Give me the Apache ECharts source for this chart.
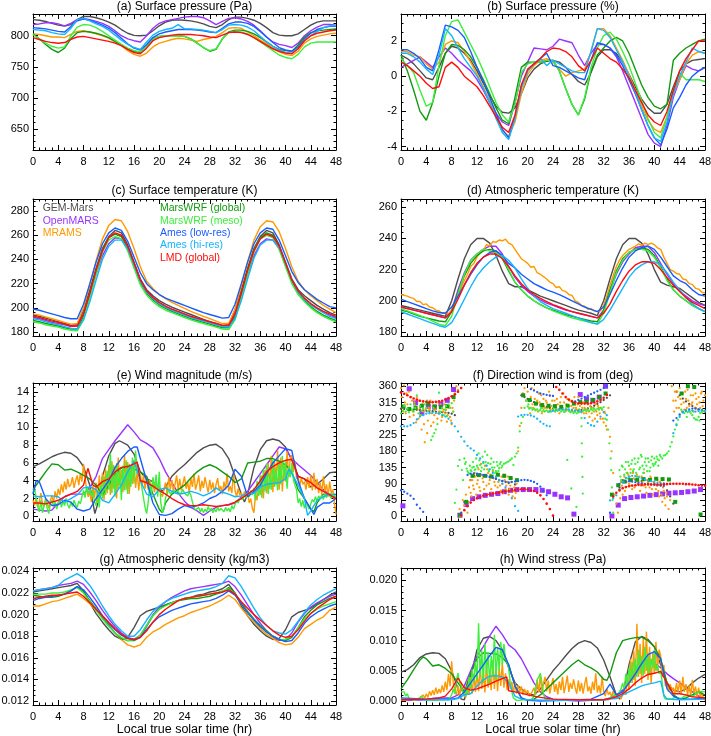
<!DOCTYPE html>
<html><head><meta charset="utf-8">
<script src="https://cdn.jsdelivr.net/npm/echarts@6/dist/echarts.min.js"></script>
<style>html,body{margin:0;padding:0;background:#fff}#c{width:711px;height:736px}</style>
</head><body><div id="c"></div>
<script>
const MODELS=['GEM-Mars','OpenMARS','MRAMS','MarsWRF (global)','MarsWRF (meso)','Ames (low-res)','Ames (hi-res)','LMD (global)'];
const COLORS=['#4d4d4d','#9933ff','#ff9900','#129912','#3dee3d','#1a5cff','#14b4ff','#ff0d0d'];
const HOURS=[0,1,2,3,4,5,6,7,8,9,10,11,12,13,14,15,16,17,18,19,20,21,22,23,24,25,26,27,28,29,30,31,32,33,34,35,36,37,38,39,40,41,42,43,44,45,46,47,48];
const X_TICKS=[0,4,8,12,16,20,24,28,32,36,40,44,48];
const TICK_A=[650,700,750,800], TICK_B=[-4,-2,0,2], TICK_C=[180,200,220,240,260,280], TICK_D=[180,200,220,240,260];
const TICK_E=[0,2,4,6,8,10,12,14], TICK_F=[0,45,90,135,180,225,270,315,360];
const TICK_G=[0.012,0.014,0.016,0.018,0.020,0.022,0.024], TICK_H=[0,0.005,0.010,0.015,0.020];

// (a) Surface pressure (Pa), hourly
const A_gem=[826,825,823,820,817,815.5,818,826,831,831,829,826, 822,817,810,804,800.5,800,801,808,816,822,825,825.5, 825,824,822,819,815,813,818,826,830,830,828,825, 820,813,805,801,800,800,803,810,817,822,824,824,824];
const A_open=[818,819,821,821,819,816,820,826,828,826,823,820, 815,808,800,795,792,790,800,812,820,824,826,828, 830,831,831,829,824,818,823,828,829,827,823,817, 808,798,790,786,784,781,788,800,808,814,818,818,817];
const A_mrams=[803,802,800,798,798,797,802,807,808,806,803,800, 796,790,784,776,770,767,772,782,788,791,794,796, 795,793,791,794,796,799,805,812,813,812,806,800, 793,787,780,774,770,768,775,788,795,799,801,803,804];
const A_wrfg=[803,795,786,778,773,780,795,805,807,806,804,801, 797,791,785,779,775,773,783,795,799,800,800,800, 799,795,788,781,775,778,795,806,809,809,807,803, 797,790,783,778,776,775,785,798,805,808,809,810,811];
const A_wrfm=[802,795,788,783,780,782,800,814,818,817,813,807, 800,793,786,780,776,774,782,795,799,800,800,800, 799,795,788,781,776,779,795,805,807,806,803,797, 790,783,776,769,765,763,770,782,788,790,790,790,790];
const A_amesl=[813,812,811,809,807,806,815,824,827,825,821,817, 812,805,796,787,780,777,786,797,803,806,808,810, 810,810,809,808,806,805,812,819,822,822,820,815, 807,798,789,781,777,775,782,795,804,810,813,815,815];
const A_amesh=[810,809,808,805,803,802,812,826,828,824,819,815, 809,801,793,786,781,778,790,801,807,810,812,818, 811,811,810,809,807,805,810,817,818,817,814,808, 799,790,783,777,773,772,780,792,800,807,813,816,816];
const A_lmd=[797,794,791,789,788,789,794,798,799,797,795,793, 791,788,784,778,773,771,780,792,797,799,801,802, 802,802,801,800,798,797,801,805,806,805,802,797, 791,785,779,775,772,771,779,792,800,804,806,808,809];

// (b) Surface pressure (%), hourly
const B_gem=[1.2,1.0,0.7,0.3,-0.1,-0.2,0.5,1.3,1.7,1.6,1.3,0.9, 0.3,-0.4,-1.1,-1.7,-2.05,-2.1,-1.8,-1.0,-0.1,0.4,0.7,0.85, 0.9,0.8,0.5,0.1,-0.3,-0.5,0.2,1.1,1.5,1.5,1.3,0.8, 0.1,-0.6,-1.3,-1.8,-2.1,-2.1,-1.6,-0.6,0.3,0.7,0.9,0.95,1.0];
const B_open=[0.5,0.7,0.9,1.1,0.8,0.5,1.1,1.6,1.3,0.9,0.6,0.3, -0.2,-0.8,-1.5,-2.1,-2.6,-2.8,-1.5,0.0,0.8,1.6,1.55,1.5, 1.7,2.1,2.0,1.9,1.2,0.6,1.3,1.8,1.8,1.6,1.1,0.3, -0.6,-1.5,-2.4,-3.3,-3.8,-4.0,-2.8,-1.2,-0.2,0.6,0.4,0.3,0.5];
const B_mrams=[1.4,1.4,1.2,1.1,0.7,0.4,0.8,1.8,2.0,1.9,1.4,0.8, 0.1,-0.6,-1.4,-2.3,-3.1,-3.4,-2.6,-1.0,0.1,0.6,0.9,1.0, 0.8,0.4,0.0,0.2,0.3,0.4,1.4,2.7,2.7,2.3,1.6,0.9, 0.1,-0.8,-1.7,-2.5,-3.0,-3.2,-2.3,-1.0,-0.2,0.7,1.2,1.4,1.3];
const B_wrfg=[1.2,0.3,-0.8,-2.0,-2.5,-1.5,0.0,1.3,1.8,1.75,1.5,1.1, 0.5,-0.2,-1.0,-1.8,-2.5,-2.7,-1.2,0.5,0.8,0.8,0.8,0.9, 0.9,0.3,-0.7,-1.6,-2.2,-1.3,0.3,1.2,1.6,2.0,2.2,2.0, 1.3,0.4,-0.5,-1.2,-1.7,-1.85,-1.6,0.9,1.3,1.6,1.8,2.0,2.1];
const B_wrfm=[1.0,0.6,0.2,-0.8,-1.7,-1.5,0.6,2.3,3.1,3.2,2.5,1.8, 1.1,0.3,-0.6,-1.5,-2.2,-2.6,-1.6,0.2,0.7,0.8,0.8,0.9, 0.9,0.3,-0.7,-1.6,-2.2,-1.2,0.5,1.6,2.3,2.5,2.1,1.4, 0.6,-0.4,-1.4,-2.4,-3.2,-3.5,-2.3,-0.8,0.2,-0.2,-0.2,-0.2,-0.3];
const B_amesl=[1.5,1.5,1.3,1.0,0.5,0.3,1.5,2.9,2.8,2.6,2.2,1.4, 0.5,-0.3,-1.2,-2.1,-3.0,-3.5,-2.3,-0.6,0.3,0.7,1.0,1.3, 0.6,0.5,0.3,0.1,-0.1,-0.2,0.9,1.9,1.8,1.6,1.2,0.6, -0.2,-1.0,-1.9,-2.8,-3.5,-3.9,-3.0,-1.8,-1.2,-0.5,0.0,0.3,0.5];
const B_amesh=[1.3,1.3,1.1,0.8,0.4,0.1,1.2,2.7,2.3,1.6,1.0,0.5, 0.0,-0.7,-1.5,-2.4,-3.2,-3.6,-2.4,-0.7,0.3,0.7,1.0,0.6, 0.9,0.7,0.5,0.3,0.2,0.2,1.4,2.7,2.6,2.2,1.5,0.8, 0.0,-0.9,-1.9,-2.8,-3.5,-3.7,-2.6,-1.0,0.0,0.8,1.6,1.4,1.3];
const B_lmd=[0.8,0.6,0.3,0.0,-0.4,-0.7,-0.6,0.5,0.8,0.5,0.0,-0.3, -0.6,-1.1,-1.7,-2.3,-2.9,-3.2,-2.2,-0.5,0.4,0.7,1.0,1.4, 1.6,1.55,1.4,1.1,0.6,0.3,0.9,1.6,1.3,1.0,0.8,0.4, -0.1,-0.8,-1.5,-2.2,-2.6,-2.8,-2.0,-0.8,0.3,1.0,1.5,2.0,2.0];

// (c) Surface temperature (K), hourly
const C_gem=[194,193,191.5,190,188.5,187,185.5,186,198,215,233,249, 259,264,262,252,238,224,215,210,206,203,200.5,198.5, 196.5,194.5,192.5,190.5,188.5,187,185.5,186,198,215,233,249, 259,264,262,252,238,224,215,210,206,202,199,196,194];
const C_open=[192,191,189.5,188,187,186,184.5,185,195,211,228,243, 253,258,257,249,236,223,214,208,204,201,198.5,196.5, 194.5,192.5,191,189.5,188,186.5,185,185,195,211,228,243, 253,257,256,249,236,223,213,207,203,199.5,196.5,194,192];
const C_mrams=[195,194,192.5,191,189.5,188,186.5,187,200,219,239,257, 268,273,272,263,249,234,222,216,211,207.5,204.5,202, 199.5,197,195,193,191,189,187,187,199,218,238,256, 267,272,271,263,249,234,222,215,210,206,202,199,196];
const C_wrfg=[189.5,188.5,187,186,185,183.5,182.5,182.5,193,211,231,248, 258,261,259,249,235,221,212,206.5,202.5,199.5,197,195, 193,191,189.5,188,186.5,185,183.5,183.5,193,211,231,248, 258,262,260,250,236,222,212,206,201,197,194,191.5,189.5];
const C_wrfm=[188.5,187.5,186,185,184,182.5,181.5,181,190,208,228,246, 256,259,257,247,233,219,210.5,205,201,198,196,194, 192,190,188.5,187,185.5,184,182.5,182,190,208,228,246, 257,260,258,248,234,220,211,205,200,196,193,190.5,188.5];
const C_amesl=[199,198,196.5,195,193.5,192,191,191,203,220,238,253, 262,266,264,255,242,229,220,215,211,208,206,204, 202,200,198,196,194.5,193,191.5,192,203,220,238,253, 262,266,265,256,243,230,221,215,211,207,204,201,200];
const C_amesh=[191,190,188.5,187,186,184.5,183,182.5,190,205,223,240, 251,256,256,249,236,222,213,207.5,203.5,200.5,198,196, 194,192,190.5,189,187.5,186,184.5,184,191,206,224,241, 252,256,256,250,237,223,213,207,202.5,199,196,193,191];
const C_lmd=[193,192,190.5,189,188,186.5,185,185,195,212,231,247, 258,262,260,251,237,223,214,208.5,204.5,201.5,199,197, 195,193,191.5,190,188.5,187,185.5,185.5,195,212,231,247, 257,261,259,251,237,223,214,208,203.5,200,197,195,193];

// (d) Atmospheric temperature (K), hourly (MRAMS every 0.5 h)
const D_gem=[197,196,195,194,193,192,191,190,200,214,227,236, 240,240,237,229,219,211,209,209,207,205,203,201.5, 200,198.5,197,195.5,194,193,192,190.5,200,214,227,236, 240,240,237,230,220,212,210,209,208,205,202,199,197];
const D_open=[196,195,194,193,192,191,190,189,194,207,218,226, 230,233,235,235,230,222,215,210,206,203,200.5,198.5, 197,195.5,194,193,192,191,190,189,194,206,217,225, 230,234,235,235,231,224,217,211,206,203,200,198,197];
const D_mrams=[204,203.5, 203,202, 201.5,199.5, 199.5,197.5, 198,196, 195.5,194, 193.5,192, 192.5,191.5, 194,198, 203,208, 213,217, 222,224, 228,231, 232,236, 235,238, 237.5,239, 238.5,239.5, 237,236, 233,230, 227,225.5, 224,221.5, 222,218, 217,215.5, 214,212, 211,208.5, 209,206.5, 206,204, 203.5,200, 199,197, 196.5,194.5, 195,193.5, 193,193.5, 197,203, 210,216, 222,226, 229,231, 233,234, 235,236.5, 235.5,237, 236,237, 236,234, 233,228, 224,220, 219,217.5, 217,214, 213.5,211, 210.5,208, 207.5,205.5, 205];
const D_wrfg=[194,193,191.5,190,189,188,187,186.5,193,205,216,224, 229,232,233,232,227,219,212,207,203,200,197.5,195.5, 194,192.5,191,190,189,188,187,186.5,194,207,219,227, 231,233,234,233,229,222,214,207,203,200,197,195,193];
const D_wrfm=[195,193.5,192,190.5,189,187,185,184,190,204,217,226, 230,233,232,231,228,220,212,207,203,200,197.5,195.5, 193.5,192,190.5,189,188,187,186,185,192,205,218,226, 231,233,233,232,228,221,213,207,203,200,197,195,193];
const D_amesl=[201,199.5,198,196.5,195,193.5,192.5,192,196,203,210,217, 223,228,231,232,229,224,221,217,214,211,209,207, 205.5,204,202,200,198,196,194.5,193,196,204,213,221, 228,232,234,235,233,228,222,216,213,211,207,204,203];
const D_amesh=[193,191.5,190,188.5,187,185.5,184,183,186,193,201,209, 216,221,225,228,229,226,221,214,208,203,199.5,197, 195,193.5,192,190.5,189,187.5,186,185,188,194,201,208, 215,220,223,225,225,223,218,212,207,202,198,195,193];
const D_lmd=[196,195,194,193,192,191,190,189,193,201,210,218, 224,228,230,230,227,222,216,211,207,204,201.5,199.5, 197.5,196,194.5,193,192,191,190,189,192,198,206,213, 219,223,225,225,224,220,215,210,206,202,199,197,195];

// (e) Wind magnitude (m/s): [hour, value] pairs; MRAMS and MarsWRF meso every 0.25 h
const E_gem=[[0,5.6],[1,5.9],[2,6.3],[3,6.7],[4,7.0],[5,7.2],[6,7.1],[7,6.6],[8,5.6],[9,3.5],[9.8,0.3],[10.5,2.0],[11,4.5],[12,6.8],[13,8.2],[13.7,8.5],[14,8.5],[15,8.0],[16,7.0],[17,5.0],[18,4.2],[19,3.9],[20,3.2],[20.5,2.8],[21,3.3],[22,4.5],[23,5.2],[24,5.8],[25,6.5],[26,7.2],[27,7.7],[28,8.0],[29,8.1],[30,7.6],[31,6.5],[32,4.5],[33,2.5],[33.5,1.6],[34,2.5],[35,5.5],[36,7.5],[37,8.5],[38,8.7],[39,8.5],[40,7.8],[41,6.3],[42,4.5],[43,4.2],[44,3.3],[45,3.6],[46,4.2],[47,4.9],[48,5.0]];
const E_open=[[0,0.8],[1,0.7],[2,0.6],[3,0.7],[4,1.5],[5,2.2],[6,2.5],[7,2.5],[8,2.5],[9,3.2],[10,4.5],[11,6.5],[12,7.5],[13,8.5],[14,9.4],[15,10.3],[16,9.5],[17,8.6],[18,8.2],[19,7.7],[20,6.5],[21,5.0],[22,3.8],[23,2.6],[24,1.7],[25,1.0],[26,0.6],[27,0.1],[28,0.6],[29,1.0],[30,1.2],[31,1.3],[32,1.5],[33,2.2],[34,2.8],[35,3.8],[36,4.8],[37,5.8],[38,6.8],[39,7.8],[40,7.6],[41,6.5],[42,5.8],[43,5.2],[44,4.6],[45,3.8],[46,3.0],[47,2.4],[48,2.0]];
const E_mrams=[1.8,1.2,2.1,1.0, 1.7,2.6,1.4,1.1, 2.0,1.5,0.9,1.8, 2.3,1.6,2.8,2.0, 3.1,2.4,3.6,2.7, 3.9,3.0,4.2,3.3, 3.6,4.4,3.2,4.0, 4.6,3.5,4.8,3.9, 5.9,4.2,3.0,2.2, 2.8,1.6,3.4,2.1, 3.8,1.5,4.6,2.3, 4.9,1.8,5.3,2.6, 5.8,2.4,6.2,3.1, 5.6,2.0,6.6,3.4, 5.2,2.7,6.9,3.0, 6.1,2.5,5.7,3.6, 6.4,3.2,5.0,2.9, 4.8,3.4,4.6,3.1, 4.4,3.0,4.1,3.2, 3.8,2.7,3.9,3.1, 3.4,2.6,2.2,3.0, 3.8,2.5,4.4,3.0, 4.1,2.8,3.6,4.6, 3.0,4.2,2.9,3.7, 4.5,3.1,3.9,2.6, 4.3,3.3,4.8,3.0, 3.7,4.6,2.8,4.0, 3.2,4.4,3.5,2.7, 4.1,3.0,3.8,2.6, 3.6,4.3,2.9,3.4, 2.5,3.9,3.0,4.8, 2.8,3.4,2.6,5.0, 2.9,2.2,3.1,2.4, 2.7,1.9,2.8,2.2, 2.6,1.5,2.0,0.9, 0.4,2.5,1.8,3.6, 2.4,4.6,2.0,5.2, 2.6,6.0,3.1,6.8, 2.7,6.2,3.5,7.4, 3.0,6.6,2.8,5.9, 3.9,7.3,4.4,6.5, 6.9,5.0,6.2,4.2, 4.5,3.4,4.3,3.6, 3.9,3.0,4.4,3.2, 4.6,2.9,4.9,3.0, 4.2,2.6,3.8,2.4, 4.5,2.8,3.6,2.2, 3.9,2.6,3.0,1.5, 0.2];
const E_wrfm=[2.6,3.2,2.0,1.1, 0.5,1.8,0.4,1.2, 1.9,0.9,0.3,1.4, 1.8,1.1,1.6,0.8, 1.5,1.9,1.0,1.7, 1.2,2.0,1.3,0.9, 1.6,1.1,1.8,1.3, 1.0,1.7,1.4,2.2, 2.9,2.1,3.4,2.5, 3.1,2.3,2.8,1.6, 1.2,2.9,1.0,3.6, 2.0,4.5,2.4,5.1, 3.0,7.1,2.6,5.8, 2.2,6.0,3.0,5.4, 1.8,5.7,2.9,6.3, 2.5,5.9,3.3,6.6, 3.7,7.4,4.8,5.2, 4.3,3.2,2.1,1.0, 0.3,1.6,3.8,2.4, 4.4,3.1,4.7,2.2, 5.0,1.5,0.4,0.8, 2.1,2.6,2.9,2.5, 2.7,3.0,2.6,2.8, 2.9,2.4,2.7,3.0, 2.6,2.8,2.3,2.7, 2.4,1.6,1.0,0.7, 0.6,1.0,0.5,0.9, 0.4,0.8,0.5,1.1, 0.6,0.9,0.4,0.8, 0.5,1.0,0.6,0.9, 0.7,0.5,1.0,0.6, 0.9,0.5,1.2,0.8, 1.3,1.8,1.5,2.0, 2.2,1.9,2.4,2.1, 2.6,2.2,2.9,2.4, 3.2,1.8,4.0,2.3, 4.6,2.1,5.3,2.8, 5.9,2.5,4.8,3.0, 6.4,3.3,5.5,2.9, 6.0,3.6,6.8,4.0, 6.2,3.1,5.6,4.4, 6.0,4.1,3.5,3.0, 1.5,2.0,1.1,1.8, 0.9,1.6,1.2,0.8, 1.4,1.9,1.6,2.2, 1.7,2.3,2.0,2.4, 1.9,2.5,2.1,2.6, 2.3,2.0,2.4,2.2, 2.2];
const E_amesl=[[0,2.5],[0.5,4.0],[1,3.9],[2,2.0],[3,1.2],[4,1.3],[5,1.8],[6,1.6],[7,0.8],[8,0.6],[9,0.8],[10,2.0],[11,3.0],[12,4.0],[13,5.5],[14,6.5],[15,7.3],[16,7.8],[16.5,7.8],[17,6.5],[18,4.0],[19,1.5],[20,0.2],[21,0.1],[22,0.3],[23,0.8],[24,1.2],[25,1.0],[26,1.2],[27,1.5],[28,2.0],[29,2.3],[30,2.8],[31,3.5],[32,5.3],[33,4.5],[34,2.2],[35,2.8],[36,3.5],[37,4.8],[38,6.0],[39,6.8],[40,7.6],[41,7.4],[42,4.0],[43,2.0],[44,0.8],[44.5,0.2],[45,1.0],[46,1.5],[47,1.5],[48,2.0]];
const E_amesh=[[0,2.3],[1,2.2],[2,2.3],[3,2.3],[4,2.2],[5,1.6],[6,2.0],[7,2.4],[8,3.2],[9,3.3],[10,3.0],[11,1.8],[12,1.5],[13,2.5],[14,3.5],[15,5.0],[16,6.2],[17,4.0],[18,2.5],[19,2.2],[20,3.0],[21,3.2],[22,2.8],[23,2.5],[24,2.6],[25,2.8],[26,2.6],[27,2.3],[28,2.6],[29,3.2],[30,2.7],[31,2.5],[32,2.2],[33,2.3],[34,2.6],[35,2.6],[36,3.3],[37,3.6],[38,3.7],[39,3.8],[40,4.2],[40.5,5.3],[41,4.8],[42,3.5],[43,2.0],[43.5,0.1],[44,0.6],[45,1.8],[46,2.2],[47,2.5],[48,2.5]];
const E_lmd=[[0,1.5],[1,1.5],[2,1.4],[3,1.6],[4,1.8],[5,2.2],[6,2.5],[7,2.8],[8,3.5],[8.7,5.4],[9,5.2],[9.5,3.5],[10,3.3],[11,3.9],[12,4.2],[13,5.0],[14,5.5],[15,5.6],[16,5.9],[16.5,6.1],[17,4.0],[18,3.8],[19,3.4],[20,2.9],[21,2.5],[22,2.0],[23,1.6],[24,1.3],[25,1.2],[26,1.2],[27,1.3],[28,1.2],[29,1.1],[30,1.2],[31,1.3],[32,1.6],[33,2.0],[34,2.5],[35,3.0],[36,4.0],[37,5.0],[38,5.6],[39,6.0],[40,6.3],[41,6.4],[42,4.5],[43,4.2],[44,3.8],[45,3.2],[46,2.8],[47,2.4],[48,2.0]];
const E_wrfg=[[0,3.0],[1,4.0],[2,5.0],[3,5.9],[4,5.8],[5,5.2],[6,5.3],[7,5.0],[8,4.6],[9,4.2],[10,3.5],[11,2.4],[12,3.5],[13,4.8],[14,5.4],[15,5.6],[16,5.3],[17,5.0],[18,4.5],[19,2.5],[20,0.8],[20.5,0.4],[21,1.5],[22,2.5],[23,3.0],[24,3.5],[25,4.3],[26,5.0],[27,5.5],[28,5.8],[29,5.5],[30,5.0],[31,4.5],[32,3.8],[33,4.2],[34,6.0],[35,6.1],[36,6.2],[37,6.5],[38,6.5],[39,6.2],[40,5.8],[41,5.0],[42,3.0],[43,2.0],[44,0.8],[44.5,0.5],[45,1.5],[46,2.5],[47,2.5],[48,2.2]];

// (f) Direction wind is from (deg): [hour, deg] points
const F_open=[[0.3,29],[1.3,353],[2.3,314],[3.3,286],[4.3,304],[5.3,302],[6.3,311],[7.3,321],[8.3,351],[9.3,3],[10.3,33],[11.3,49],[12.3,54],[13.3,58],[14.3,61],[15.3,63],[16.3,68],[17.3,72],[18.3,74],[19.3,74],[20.3,74],[21.3,74],[22.3,72],[23.3,68],[24.3,61],[25.3,54],[26.3,51],[27.3,6],[28.3,337],[29.3,325],[30.3,321],[31.3,330],[32.3,360],[33.3,1],[34.3,31],[35.3,49],[36.3,52],[37.3,54],[38.3,56],[39.3,58],[40.3,60],[41.3,62],[42.3,64],[43.3,65],[44.3,66],[45.3,68],[46.3,70],[47.3,74]];
const F_wrfg=[[0.4,304],[1.3,297],[2.3,300],[3.3,306],[4.3,312],[5.3,304],[6.3,302],[7.3,305],[8.3,330],[9.3,3],[10.3,40],[11.3,112],[12.3,114],[13.3,112],[14.3,110],[15.3,115],[16.3,112],[17.3,106],[18.3,100],[19.3,335],[20.3,322],[21.3,312],[22.3,308],[23.3,306],[24.3,305],[25.3,303],[26.3,306],[27.3,312],[28.3,316],[29.3,318],[30.3,322],[31.3,330],[32.3,340],[33.3,60],[34.3,86],[35.3,96],[36.3,100],[37.3,101],[38.3,103],[39.3,101],[40.3,104],[41.3,103],[42.3,102],[43.3,40],[44.3,340],[45.3,360],[46.3,358],[47.3,5]];
const F_lmd=[[0,343],[0.5,339],[1,335],[1.5,330],[2,326],[2.5,323],[3,320],[3.5,318],[4,317],[4.5,316],[5,316],[5.5,317],[6,318],[6.5,320],[7,323],[7.5,327],[8,332],[8.5,338],[9,345],[9.5,355],[9.5,2],[10,17],[10.5,28],[11,38],[11.5,45],[12,50],[12.5,54],[13,57],[13.5,59],[14,61],[14.5,63],[15,64],[15.5,66],[16,67],[16.5,69],[17,70],[17.5,72],[18,73],[18.5,74],[19,75],[19.5,75],[20,74],[20.5,72],[21,70],[21.5,65],[22,58],[22.5,48],[23,35],[23.5,20],[24,2],[24.5,358],[25,350],[25.5,340],[26,330],[26.5,323],[27,318],[27.5,315],[28,313],[28.5,312],[29,312],[29.5,312],[30,313],[30.5,315],[31,318],[31.5,322],[32,328],[32.5,336],[33.5,55],[34,65],[34.5,73],[35,78],[35.5,81],[36,83],[36.5,85],[37,86],[37.5,87],[38,87],[38.5,88],[39,88],[39.5,88],[40,88],[40.5,88],[41,88],[41.5,89],[42,89],[42.5,90],[43,90],[43.5,90],[44,90],[44.5,90],[45,89],[45.5,89],[46,88],[46.5,87],[47,86],[47.5,85],[48,85]];
const F_amesh=[[0,249],[0.5,249],[1,249],[1.5,252],[2,258],[2.5,268],[3,276],[3.5,280],[4,284],[4.5,286],[5,287],[5.5,286],[6,284],[6.5,280],[7,276],[7.5,270],[8,258],[8.5,249],[9,235],[9.5,220],[10,207],[10.5,195],[11,188],[11.5,182],[12,170],[12.5,160],[13,150],[13.5,140],[14,130],[14.5,120],[15,110],[15.5,100],[16,90],[16.5,80],[17,68],[17.5,50],[18,28],[18.5,15],[18.5,276],[19,280],[19.5,281],[20,281],[20.5,279],[21,276],[21.5,270],[22,262],[22.5,256],[23,251],[23.5,249],[23.5,290],[24,292],[24.5,294],[25,295],[25.5,296],[26,296],[26.5,296],[27,295],[27.5,293],[28,291],[28.5,288],[29,272],[29.5,258],[30,252],[30.5,250],[31,262],[31.5,276],[32,288],[32.5,280],[33,44],[33.5,50],[34,58],[34.5,75],[35,95],[35.5,106],[36,110],[36.5,112],[37,111],[37.5,108],[38,105],[38.5,102],[39,99],[39.5,97],[40,95],[40.5,93],[41,92],[41.5,91],[42,90],[42.5,89],[43,230],[43.5,252],[44,275],[44.5,288],[45,291],[45.5,293],[46,292],[46.5,290],[47,291],[47.5,293],[48,292]];
const F_amesl=[[0,72],[0.5,68],[1,63],[1.5,57],[2,48],[2.5,32],[3,22],[3.5,12],[9.5,6],[10.5,114],[11,118],[11.5,119],[12,118],[12.5,116],[13,114],[13.5,112],[14,110],[14.5,107],[15,104],[15.5,100],[16,97],[16.5,95],[17,94],[17.5,95],[18,96],[18.5,98],[19,100],[19.5,101],[20,100],[20.5,98],[21,95],[21.5,90],[22,82],[22.5,70],[23,58],[20.5,352],[21,348],[21.5,344],[22,340],[22.5,338],[23,336],[23.5,334],[24,333],[27.5,318],[28,322],[28.5,326],[29,330],[29.5,334],[30,338],[30.5,342],[31,346],[31.5,350],[32,355],[32.5,360],[33,10],[34.5,90],[35,94],[35.5,96],[36,97],[36.5,96],[37,94],[37.5,92],[38,91],[38.5,90],[39,89],[39.5,88],[40,87],[40.5,86],[41,85],[41.5,84],[43,265],[43.5,272],[44,282],[44.5,288],[45,293],[45.5,296],[46,298],[46.5,298],[47,296],[47.5,294],[48,292]];
const F_gem=[[0,298],[0.5,297],[1,296],[1.5,296],[2,295],[2.5,295],[3,294],[3.5,293],[4,292],[4.5,292],[5,291],[5.5,290],[6,289],[6.5,288],[7,287],[7.5,286],[8,284],[8.5,280],[9.5,10],[10,40],[11,100],[11.5,112],[12,114],[13,112],[14,108],[15,104],[16,98],[17,92],[18,88],[19,335],[19.5,330],[20,325],[20.5,320],[21,316],[21.5,312],[22,308],[22.5,305],[23,302],[23.5,300],[24,298],[24.5,297],[25,296],[25.5,295],[26,294],[26.5,293],[27,292],[27.5,292],[28,293],[28.5,294],[29,296],[29.5,299],[30,302],[30.5,306],[31,311],[31.5,316],[32,322],[32.5,328],[33,335],[34.5,80],[35,100],[36,104],[37,101],[38,97],[39,93],[40,90],[41,86],[42,72],[42.5,55],[43,35],[43.5,345],[44,335],[44.5,326],[45,318],[45.5,311],[46,305],[46.5,300],[47,296],[47.5,293],[48,291]];
const F_mrams=[[0,355],[0.25,300],[0.5,362],[0.75,285],[1,310],[1.25,345],[1.5,295],[1.75,320],[2,280],[2.25,305],[2.5,330],[2.75,270],[3,300],[3.25,240],[3.5,290],[3.75,205],[4,315],[4.25,265],[4.5,295],[4.75,250],[5,305],[5.25,280],[5.5,300],[5.75,270],[6,290],[6.25,310],[6.5,275],[6.75,295],[7,285],[7.25,262],[7.5,300],[7.75,275],[8,255],[8.25,290],[8.5,340],[8.75,360],[9,350],[9.25,20],[9.5,0],[9.75,45],[10,30],[10.25,60],[10.5,10],[10.75,80],[11,65],[11.25,100],[11.5,75],[11.75,110],[12,90],[12.25,130],[12.5,70],[12.75,115],[13,95],[13.25,140],[13.5,85],[13.75,120],[14,100],[14.25,75],[14.5,125],[14.75,95],[15,110],[15.25,80],[15.5,100],[15.75,70],[16,90],[16.25,115],[16.5,75],[16.75,95],[17,60],[17.25,85],[17.5,105],[17.75,70],[18,50],[18.25,90],[18.5,180],[18.75,250],[19,300],[19.25,340],[19.5,355],[19.75,320],[20,345],[20.25,300],[20.5,330],[20.75,310],[21,350],[21.25,295],[21.5,320],[21.75,340],[22,305],[22.25,285],[22.5,325],[22.75,300],[23,315],[23.25,290],[23.5,335],[23.75,305],[24,295],[24.25,320],[24.5,300],[24.75,310],[25,285],[25.25,330],[25.5,300],[25.75,315],[26,295],[26.25,325],[26.5,305],[26.75,290],[27,320],[27.25,300],[27.5,315],[27.75,295],[28,330],[28.25,305],[28.5,290],[28.75,315],[29,300],[29.25,285],[29.5,310],[29.75,275],[30,300],[30.25,265],[30.5,290],[30.75,310],[31,280],[31.25,300],[31.5,270],[31.75,295],[32,260],[32.25,285],[32.5,240],[32.75,300],[33,220],[33.25,180],[33.5,120],[33.75,60],[34,35],[34.25,10],[34.5,70],[34.75,95],[35,60],[35.25,110],[35.5,80],[35.75,120],[36,90],[36.25,130],[36.5,75],[36.75,105],[37,85],[37.25,115],[37.5,95],[37.75,70],[38,110],[38.25,85],[38.5,100],[38.75,65],[39,95],[39.25,80],[39.5,105],[39.75,60],[40,90],[40.25,75],[40.5,100],[40.75,55],[41,85],[41.25,40],[41.5,70],[41.75,30],[42,55],[42.25,20],[42.5,45],[42.75,360],[43,320],[43.25,345],[43.5,300],[43.75,330],[44,355],[44.25,310],[44.5,340],[44.75,295],[45,325],[45.25,350],[45.5,305],[45.75,335],[46,315],[46.25,290],[46.5,340],[46.75,310],[47,330],[47.25,300],[47.5,345],[47.75,320],[48,335]];
const F_mrams2=[[0.125,330],[0.375,290],[0.625,315],[0.875,340],[1.125,300],[1.375,275],[1.625,330],[1.875,290],[2.125,315],[2.375,260],[2.625,295],[2.875,320],[3.125,280],[3.375,310],[3.625,255],[3.875,295],[4.125,230],[4.375,300],[4.625,320],[4.875,285],[5.125,260],[5.375,295],[5.625,315],[5.875,285],[6.125,300],[6.375,265],[6.625,290],[6.875,310],[7.125,295],[7.375,280],[7.625,305],[7.875,265],[8.125,300],[8.375,320],[10.625,40],[10.875,100],[11.125,55],[11.375,85],[11.625,120],[11.875,60],[12.125,100],[12.375,80],[12.625,145],[12.875,105],[13.125,75],[13.375,110],[13.625,130],[13.875,90],[14.125,115],[14.375,65],[14.625,105],[14.875,85],[15.125,120],[15.375,95],[15.625,85],[15.875,110],[16.125,65],[16.375,100],[16.625,85],[16.875,110],[17.125,75],[17.375,95],[17.625,55],[17.875,80],[18.125,65],[20.125,320],[20.375,285],[20.625,355],[20.875,300],[21.125,325],[21.375,310],[21.625,290],[21.875,315],[22.125,335],[22.375,300],[22.625,290],[22.875,320],[23.125,300],[23.375,345],[23.625,295],[23.875,320],[24.125,305],[24.375,290],[24.625,325],[24.875,295],[25.125,315],[25.375,300],[25.625,340],[25.875,290],[26.125,310],[26.375,295],[26.625,320],[26.875,305],[27.125,290],[27.375,330],[27.625,300],[27.875,310],[28.125,290],[28.375,320],[28.625,300],[28.875,285],[29.125,315],[29.375,295],[29.625,290],[29.875,305],[30.125,285],[30.375,300],[30.625,270],[30.875,290],[31.125,305],[31.375,285],[31.625,300],[31.875,270],[32.125,290],[32.375,250],[34.625,50],[34.875,85],[35.125,100],[35.375,70],[35.625,95],[35.875,115],[36.125,85],[36.375,100],[36.625,120],[36.875,80],[37.125,100],[37.375,90],[37.625,110],[37.875,85],[38.125,95],[38.375,120],[38.625,80],[38.875,100],[39.125,90],[39.375,110],[39.625,75],[39.875,95],[40.125,105],[40.375,85],[40.625,70],[40.875,95],[41.125,60],[41.375,80],[41.625,50],[41.875,65],[43.125,290],[43.375,320],[43.625,345],[43.875,300],[44.125,325],[44.375,290],[44.625,315],[44.875,345],[45.125,300],[45.375,320],[45.625,290],[45.875,310],[46.125,335],[46.375,300],[46.625,325],[46.875,295],[47.125,315],[47.375,340],[47.625,305],[47.875,290]];
const F_wrfm=[[0,285],[0.25,292],[0.5,305],[0.75,290],[1,298],[1.25,288],[1.5,310],[1.75,295],[2,290],[2.25,300],[2.5,335],[2.75,285],[3,305],[3.25,292],[3.5,298],[3.75,310],[4,300],[4.25,290],[4.5,285],[4.75,211],[5,221],[5.25,230],[5.5,240],[5.75,255],[6,342],[6.25,290],[6.5,300],[6.75,280],[7,295],[7.25,277],[7.5,310],[7.75,300],[8,313],[8.25,290],[8.5,37],[8.75,74],[9,139],[9.25,156],[9.4,0],[9.6,128],[9.8,100],[10,160],[10.25,150],[10.5,125],[10.75,118],[11,128],[11.25,135],[11.5,137],[11.75,130],[12,140],[12.25,174],[12.5,142],[12.75,135],[13,147],[13.25,179],[13.5,140],[13.75,147],[14,130],[14.25,160],[14.5,128],[14.75,135],[15,125],[15.25,140],[15.5,133],[15.75,150],[16,140],[16.25,145],[16.5,147],[16.75,150],[17,152],[17.25,156],[17.5,160],[17.75,142],[18,165],[18.25,174],[18.5,190],[18.75,235],[19,258],[19.25,275],[19.5,300],[19.75,320],[20,304],[20.25,298],[20.5,300],[20.75,295],[21,297],[21.25,293],[21.5,296],[21.75,292],[22,295],[22.25,290],[22.5,294],[22.75,291],[23,293],[23.25,289],[23.5,292],[23.75,290],[24,293],[24.25,291],[24.5,295],[24.75,292],[25,294],[25.25,290],[25.5,293],[25.75,289],[26,291],[26.25,156],[26.5,292],[26.75,288],[26.9,77],[27,290],[27.25,286],[27.5,289],[27.7,26],[27.75,285],[28,288],[28.25,290],[28.5,272],[28.5,249],[28.55,202],[28.6,165],[28.65,109],[28.7,63],[28.75,292],[29,294],[29.25,291],[29.5,295],[29.75,292],[30,296],[30.25,293],[30.5,297],[30.75,294],[31,298],[31.25,295],[31.5,300],[31.75,296],[32,302],[32.25,270],[32.5,267],[32.7,240],[32.9,202],[33.1,160],[33.2,128],[33.3,80],[33.4,45],[33.5,10],[34.5,128],[34.75,100],[35,137],[35.25,115],[35.5,150],[35.75,105],[36,140],[36.25,120],[36.5,155],[36.75,130],[37,145],[37.25,110],[37.5,160],[37.75,135],[38,165],[38.25,120],[38.5,150],[38.75,140],[39,160],[39.25,125],[39.5,155],[39.75,145],[40,160],[40.25,150],[40.5,158],[40.75,155],[41,165],[41.25,160],[41.5,168],[41.75,170],[42,174],[42.25,180],[42.5,193],[42.75,205],[43,221],[43.25,240],[43.5,255],[43.75,267],[44,280],[44.25,295],[44.5,290],[44.75,286],[45,292],[45.25,288],[45.5,290],[45.75,285],[46,280],[46.25,272],[46.5,268],[46.75,267],[47,275],[47.25,286],[47.5,288],[47.75,292],[48,290]];
const F_wrfm2=[[10.125,145],[10.375,132],[10.625,120],[10.875,140],[11.125,125],[11.375,150],[11.625,128],[11.875,160],[12.125,135],[12.375,155],[12.625,125],[12.875,165],[13.125,130],[13.375,150],[13.625,170],[13.875,125],[14.125,145],[14.375,135],[14.625,150],[14.875,120],[15.125,150],[15.375,125],[15.625,145],[15.875,135],[34.625,110],[34.875,140],[35.125,95],[35.375,130],[35.625,120],[35.875,150],[36.125,110],[36.375,145],[36.625,125],[36.875,160],[37.125,120],[37.375,150],[37.625,130],[37.875,170],[38.125,140],[38.375,130],[38.625,160],[38.875,125],[39.125,150],[39.375,135],[39.625,165],[39.875,140],[40.125,145],[40.375,165],[40.625,140],[40.875,170],[2.125,310],[3.125,280],[4.125,320],[5.125,300],[6.125,285],[7.125,305],[20.125,310],[22.125,300],[24.125,298],[26.125,300],[28.125,296],[30.125,300],[45.125,275],[46.125,290],[47.125,265]];

// (g) Atmospheric density (kg/m3), hourly
const G_gem=[.0221,.0222,.0223,.0224,.0225,.0226,.0227,.0229,.0222,.0211,.0201,.0193, .0186,.0180,.0177,.0179,.0188,.0199,.0203,.0205,.0207,.0209,.0211,.0213, .0215,.0216,.0218,.0219,.0221,.0222,.0224,.0228,.0220,.0208,.0199,.0191, .0185,.0180,.0177,.0178,.0186,.0198,.0202,.0204,.0206,.0210,.0214,.0218,.0221];
const G_open=[.0222,.0223,.0224,.0225,.0227,.0228,.0229,.0231,.0228,.0221,.0213,.0204, .0196,.0189,.0183,.0179,.0177,.0181,.0190,.0200,.0207,.0212,.0216,.0219, .0222,.0224,.0225,.0226,.0227,.0228,.0229,.0231,.0226,.0218,.0209,.0200, .0192,.0185,.0179,.0176,.0177,.0183,.0193,.0201,.0207,.0211,.0214,.0217,.0219];
const G_mrams=[.0208,.0208,.0210,.0212,.0213,.0215,.0217,.0219,.0215,.0210,.0204,.0197, .0190,.0183,.0177,.0172,.0170,.0172,.0179,.0184,.0187,.0191,.0194,.0197, .0199,.0202,.0204,.0206,.0208,.0211,.0214,.0218,.0214,.0206,.0199,.0193, .0187,.0182,.0178,.0174,.0172,.0173,.0179,.0187,.0191,.0195,.0198,.0204,.0207];
const G_wrfg=[.0218,.0217,.0216,.0216,.0217,.0219,.0222,.0226,.0221,.0213,.0205,.0197, .0190,.0183,.0178,.0176,.0176,.0179,.0189,.0199,.0205,.0209,.0211,.0213, .0214,.0215,.0215,.0216,.0217,.0219,.0221,.0225,.0220,.0211,.0203,.0196, .0190,.0185,.0180,.0177,.0176,.0179,.0188,.0198,.0204,.0209,.0212,.0215,.0217];
const G_wrfm=[.0219,.0219,.0219,.0220,.0220,.0221,.0223,.0225,.0220,.0212,.0204,.0196, .0189,.0183,.0179,.0176,.0177,.0181,.0190,.0199,.0205,.0208,.0211,.0213, .0215,.0216,.0217,.0218,.0219,.0220,.0222,.0224,.0219,.0210,.0202,.0195, .0189,.0184,.0180,.0177,.0177,.0180,.0188,.0196,.0201,.0205,.0208,.0210,.0212];
const G_amesl=[.0213,.0215,.0216,.0217,.0218,.0219,.0222,.0226,.0223,.0216,.0208,.0199, .0192,.0186,.0181,.0178,.0177,.0179,.0186,.0193,.0198,.0201,.0204,.0206, .0208,.0210,.0211,.0212,.0213,.0215,.0218,.0222,.0218,.0210,.0202,.0195, .0189,.0184,.0180,.0177,.0175,.0176,.0183,.0192,.0198,.0202,.0205,.0208,.0210];
const G_amesh=[.0222,.0223,.0224,.0225,.0227,.0232,.0235,.0238,.0234,.0227,.0218,.0208, .0199,.0191,.0185,.0180,.0180,.0186,.0195,.0203,.0208,.0212,.0215,.0217, .0219,.0221,.0222,.0223,.0224,.0226,.0229,.0236,.0234,.0226,.0216,.0206, .0197,.0190,.0185,.0183,.0182,.0186,.0194,.0202,.0209,.0214,.0218,.0221,.0224];
const G_lmd=[.0215,.0216,.0217,.0218,.0218,.0219,.0220,.0221,.0217,.0211,.0205,.0199, .0193,.0187,.0182,.0178,.0177,.0179,.0185,.0193,.0200,.0205,.0209,.0213, .0215,.0216,.0217,.0218,.0219,.0220,.0221,.0223,.0219,.0212,.0206,.0200, .0195,.0190,.0185,.0181,.0179,.0180,.0186,.0194,.0201,.0206,.0210,.0214,.0217];

// (h) Wind stress (Pa): [hour, value] pairs; MRAMS and MarsWRF meso every 0.25 h
const H_gem=[[0,0.0048],[1,0.0052],[2,0.0060],[3,0.0072],[4,0.0078],[5,0.0080],[6,0.0079],[7,0.0070],[8,0.0050],[9,0.0020],[9.5,0.0003],[10,0.0002],[11,0.0040],[12,0.0085],[13,0.0104],[14,0.0107],[15,0.0100],[16,0.0085],[17,0.0055],[18,0.0030],[19,0.0020],[20,0.0012],[21,0.0010],[22,0.0020],[23,0.0035],[24,0.0050],[25,0.0062],[26,0.0075],[27,0.0087],[28,0.0096],[29,0.0100],[30,0.0097],[31,0.0088],[32,0.0068],[33,0.0040],[34,0.0010],[34.5,0.0003],[35,0.0010],[36,0.0060],[37,0.0098],[38,0.0107],[39,0.0102],[40,0.0090],[41,0.0060],[42,0.0030],[43,0.0018],[44,0.0015],[45,0.0020],[46,0.0030],[47,0.0038],[48,0.0044]];
const H_open=[[0,0.0001],[2,0.0001],[4,0.0002],[5,0.0004],[6,0.0005],[8,0.0005],[9,0.0010],[10,0.0025],[11,0.0050],[12,0.0075],[13,0.0090],[14,0.0108],[15,0.0124],[16,0.0110],[17,0.0093],[18,0.0085],[19,0.0070],[20,0.0050],[21,0.0030],[22,0.0015],[23,0.0007],[24,0.0003],[26,0.0001],[28,0.0000],[30,0.0001],[32,0.0002],[33,0.0005],[34,0.0010],[35,0.0018],[36,0.0030],[37,0.0042],[38,0.0058],[39,0.0070],[40,0.0063],[41,0.0055],[42,0.0045],[43,0.0037],[44,0.0030],[45,0.0022],[46,0.0015],[47,0.0008],[48,0.0004]];
const H_mrams=[0.0001,0.0002,0.0001,0.0003, 0.0002,0.0001,0.0003,0.0002, 0.0001,0.0004,0.0002,0.0003, 0.0006,0.0003,0.0010,0.0005, 0.0012,0.0006,0.0016,0.0009, 0.0018,0.0010,0.0022,0.0012, 0.0020,0.0013,0.0026,0.0015, 0.0032,0.0018,0.0045,0.0024, 0.0066,0.0030,0.0018,0.0010, 0.0025,0.0008,0.0030,0.0012, 0.0022,0.0006,0.0034,0.0010, 0.0040,0.0012,0.0045,0.0015, 0.0050,0.0016,0.0058,0.0020, 0.0048,0.0014,0.0062,0.0022, 0.0044,0.0018,0.0068,0.0020, 0.0060,0.0016,0.0055,0.0025, 0.0064,0.0022,0.0046,0.0018, 0.0036,0.0020,0.0032,0.0014, 0.0030,0.0012,0.0026,0.0015, 0.0024,0.0010,0.0020,0.0012, 0.0018,0.0008,0.0010,0.0016, 0.0022,0.0010,0.0035,0.0014, 0.0044,0.0012,0.0030,0.0040, 0.0016,0.0034,0.0012,0.0026, 0.0038,0.0015,0.0028,0.0011, 0.0032,0.0018,0.0040,0.0013, 0.0026,0.0042,0.0015,0.0030, 0.0020,0.0036,0.0022,0.0012, 0.0034,0.0016,0.0030,0.0012, 0.0028,0.0040,0.0016,0.0024, 0.0012,0.0032,0.0018,0.0046, 0.0014,0.0026,0.0012,0.0040, 0.0016,0.0008,0.0020,0.0010, 0.0015,0.0007,0.0016,0.0009, 0.0012,0.0004,0.0008,0.0003, 0.0002,0.0020,0.0010,0.0040, 0.0018,0.0070,0.0030,0.0085, 0.0025,0.0128,0.0040,0.0095, 0.0030,0.0105,0.0045,0.0115, 0.0035,0.0090,0.0028,0.0080, 0.0045,0.0098,0.0050,0.0085, 0.0075,0.0040,0.0060,0.0025, 0.0030,0.0015,0.0028,0.0018, 0.0022,0.0012,0.0030,0.0014, 0.0034,0.0012,0.0040,0.0015, 0.0028,0.0010,0.0026,0.0009, 0.0035,0.0012,0.0024,0.0008, 0.0022,0.0006,0.0014,0.0004, 0.0001];
const H_wrfm=[0.0015,0.0012,0.0015,0.0008, 0.0012,0.0004,0.0002,0.0003, 0.0001,0.0002,0.0001,0.0003, 0.0002,0.0008,0.0004,0.0002, 0.0001,0.0002,0.0001,0.0002, 0.0001,0.0002,0.0001,0.0001, 0.0002,0.0001,0.0002,0.0001, 0.0002,0.0003,0.0002,0.0004, 0.0010,0.0020,0.0012,0.0035, 0.0046,0.0030,0.0025,0.0015, 0.0008,0.0025,0.0010,0.0040, 0.0020,0.0052,0.0030,0.0065, 0.0035,0.0129,0.0040,0.0085, 0.0030,0.0095,0.0045,0.0080, 0.0028,0.0075,0.0042,0.0110, 0.0035,0.0090,0.0050,0.0098, 0.0060,0.0095,0.0070,0.0065, 0.0055,0.0030,0.0015,0.0005, 0.0002,0.0001,0.0002,0.0001, 0.0001,0.0002,0.0001,0.0002, 0.0003,0.0001,0.0002,0.0004, 0.0008,0.0020,0.0035,0.0040, 0.0046,0.0030,0.0012,0.0003, 0.0001,0.0002,0.0001,0.0001, 0.0001,0.0002,0.0001,0.0001, 0.0002,0.0001,0.0001,0.0002, 0.0001,0.0001,0.0002,0.0001, 0.0001,0.0002,0.0001,0.0001, 0.0002,0.0001,0.0001,0.0002, 0.0001,0.0001,0.0002,0.0001, 0.0001,0.0002,0.0001,0.0001, 0.0002,0.0001,0.0001,0.0002, 0.0001,0.0002,0.0003,0.0002, 0.0004,0.0008,0.0005,0.0010, 0.0012,0.0008,0.0015,0.0020, 0.0030,0.0018,0.0045,0.0025, 0.0055,0.0030,0.0065,0.0035, 0.0070,0.0040,0.0085,0.0045, 0.0075,0.0042,0.0090,0.0050, 0.0080,0.0045,0.0070,0.0055, 0.0085,0.0050,0.0060,0.0045, 0.0050,0.0030,0.0008,0.0003, 0.0002,0.0004,0.0002,0.0003, 0.0004,0.0006,0.0003,0.0005, 0.0007,0.0004,0.0006,0.0008, 0.0006,0.0009,0.0007,0.0010, 0.0011,0.0008,0.0012,0.0014, 0.0015,0.0012,0.0016,0.0014, 0.0015];
const H_wrfg=[[0,0.0020],[1,0.0035],[2,0.0052],[3,0.0068],[3.5,0.0073],[4,0.0070],[5,0.0058],[6,0.0060],[7,0.0054],[8,0.0045],[9,0.0030],[10,0.0015],[11,0.0045],[12,0.0070],[13,0.0080],[14,0.0079],[15,0.0078],[16,0.0072],[17,0.0060],[18,0.0025],[19,0.0005],[20,0.0001],[21,0.0003],[22,0.0010],[23,0.0020],[24,0.0030],[25,0.0040],[26,0.0050],[27,0.0060],[28,0.0068],[29,0.0060],[30,0.0055],[31,0.0048],[32,0.0036],[32.5,0.0034],[33,0.0045],[34,0.0080],[35,0.0100],[36,0.0103],[37,0.0105],[38,0.0106],[39,0.0100],[40,0.0090],[41,0.0070],[42,0.0030],[43,0.0010],[44,0.0003],[45,0.0005],[46,0.0010],[47,0.0015],[48,0.0010]];
const H_amesl=[[0,0.0005],[4,0.0003],[8,0.0003],[9,0.0005],[10,0.0015],[11,0.0030],[12,0.0045],[13,0.0060],[14,0.0075],[15,0.0089],[16,0.0085],[17,0.0060],[18,0.0025],[19,0.0005],[20,0.0001],[22,0.0000],[26,0.0001],[30,0.0003],[32,0.0012],[33,0.0028],[34,0.0010],[35,0.0015],[36,0.0030],[37,0.0045],[38,0.0062],[39,0.0077],[40,0.0082],[41,0.0070],[42,0.0020],[43,0.0008],[44,0.0003],[46,0.0003],[48,0.0005]];
const H_amesh=[[0,0.0003],[4,0.0002],[8,0.0002],[9,0.0004],[10,0.0010],[11,0.0012],[12,0.0025],[13,0.0035],[14,0.0041],[15,0.0042],[16,0.0040],[17,0.0030],[18,0.0008],[19,0.0003],[20,0.0002],[24,0.0001],[28,0.0001],[32,0.0002],[33,0.0003],[34,0.0004],[35,0.0010],[36,0.0015],[37,0.0020],[38,0.0025],[39,0.0028],[40,0.0030],[41,0.0033],[41.5,0.0010],[42,0.0003],[44,0.0002],[48,0.0003]];
const H_lmd=[[0,0.0002],[4,0.0003],[6,0.0005],[7,0.0008],[8,0.0020],[9,0.0038],[9.5,0.0030],[10,0.0022],[11,0.0018],[12,0.0020],[13,0.0024],[14,0.0028],[15,0.0033],[16,0.0037],[16.7,0.0040],[17,0.0017],[18,0.0015],[19,0.0013],[20,0.0010],[22,0.0006],[24,0.0003],[28,0.0002],[32,0.0002],[33,0.0004],[34,0.0007],[35,0.0012],[36,0.0020],[37,0.0030],[38,0.0038],[39,0.0044],[40,0.0046],[41,0.0049],[42,0.0030],[43,0.0012],[44,0.0012],[45,0.0010],[46,0.0007],[47,0.0006],[48,0.0005]];

// ---------- build ----------
const QSTEP=0.25, HSTEP=0.5;
const hourly=v=>HOURS.map((h,i)=>[h,v[i]]);
const quarter=v=>v.map((y,i)=>[i*QSTEP,y]);
const halfh=v=>v.map((y,i)=>[i*HSTEP,y]);
function steps(lo,hi,st){const o=[];const n=Math.round((hi-lo)/st);for(let i=0;i<=n;i++)o.push(+(lo+i*st).toFixed(6));return o;}

const FONT='"Liberation Sans", Arial, sans-serif';
const COL_LEFT=[33,401], COL_W=[303,304];
const ROW_TOP=[14,199,383,568], ROW_H=[136,137,138,137];
const TITLE_Y=[6.5,190.5,375.5,560];

const panels=[
 {t:'(a) Surface pressure (Pa)',r:0,c:0,min:616,max:835,maj:TICK_A,mn:steps(620,830,10),d:0,
  lines:[hourly(A_gem),hourly(A_open),hourly(A_mrams),hourly(A_wrfg),hourly(A_wrfm),hourly(A_amesl),hourly(A_amesh),hourly(A_lmd)]},
 {t:'(b) Surface pressure (%)',r:0,c:1,min:-4.19,max:3.53,maj:TICK_B,mn:steps(-4,3.5,0.5),d:0,
  lines:[hourly(B_gem),hourly(B_open),hourly(B_mrams),hourly(B_wrfg),hourly(B_wrfm),hourly(B_amesl),hourly(B_amesh),hourly(B_lmd)]},
 {t:'(c) Surface temperature (K)',r:1,c:0,min:176.7,max:290,maj:TICK_C,mn:steps(180,288,4),d:0,
  lines:[hourly(C_gem),hourly(C_open),hourly(C_mrams),hourly(C_wrfg),hourly(C_wrfm),hourly(C_amesl),hourly(C_amesh),hourly(C_lmd)]},
 {t:'(d) Atmospheric temperature (K)',r:1,c:1,min:177.4,max:265.3,maj:TICK_D,mn:steps(180,264,4),d:0,
  lines:[hourly(D_gem),hourly(D_open),halfh(D_mrams),hourly(D_wrfg),hourly(D_wrfm),hourly(D_amesl),hourly(D_amesh),hourly(D_lmd)]},
 {t:'(e) Wind magnitude (m/s)',r:2,c:0,min:-0.53,max:15,maj:TICK_E,mn:steps(0,15,0.5),d:0,
  lines:[E_gem,E_open,quarter(E_mrams),E_wrfg,quarter(E_wrfm),E_amesl,E_amesh,E_lmd]},
 {t:'(f) Direction wind is from (deg)',r:2,c:1,min:-13,max:369,maj:TICK_F,mn:steps(0,360,15),d:0,
  dots:[F_gem,F_open,F_mrams.concat(F_mrams2),F_wrfg,F_wrfm.concat(F_wrfm2),F_amesl,F_amesh,F_lmd]},
 {t:'(g) Atmospheric density (kg/m3)',r:3,c:0,min:0.01163,max:0.02432,maj:TICK_G,mn:steps(0.012,0.024,0.0005),d:3,
  lines:[hourly(G_gem),hourly(G_open),hourly(G_mrams),hourly(G_wrfg),hourly(G_wrfm),hourly(G_amesl),hourly(G_amesh),hourly(G_lmd)]},
 {t:'(h) Wind stress (Pa)',r:3,c:1,min:-0.00067,max:0.02206,maj:TICK_H,mn:steps(0,0.022,0.001),d:3,
  lines:[H_gem,H_open,quarter(H_mrams),H_wrfg,quarter(H_wrfm),H_amesl,H_amesh,H_lmd]}
];

const grid=[],xAxis=[],yAxis=[],series=[],graphic=[];
const lineBlack={color:'#000',width:1};
panels.forEach((p,g)=>{
  grid.push({left:COL_LEFT[p.c],top:ROW_TOP[p.r],width:COL_W[p.c],height:ROW_H[p.r],containLabel:false,outerBoundsMode:'none'});
  ['bottom','top'].forEach((pos,k)=>xAxis.push({gridIndex:g,type:'value',position:pos,min:0,max:48,interval:4,
    axisLine:{show:true,onZero:false,lineStyle:lineBlack},
    axisTick:{show:true,inside:true,length:5,lineStyle:lineBlack},
    minorTick:{show:true,splitNumber:4,length:2.5,lineStyle:lineBlack},
    axisLabel:{show:k===0,margin:6,color:'#000',fontSize:11,fontFamily:FONT,customValues:X_TICKS},
    splitLine:{show:false},minorSplitLine:{show:false}}));
  const fmt=v=>v.toFixed(p.d);
  ['left','right'].forEach((pos,k)=>{
    yAxis.push({gridIndex:g,type:'value',position:pos,min:p.min,max:p.max,
      axisLine:{show:true,onZero:false,lineStyle:lineBlack},
      axisTick:{show:true,inside:true,length:5,lineStyle:lineBlack,customValues:p.maj},
      axisLabel:{show:k===0,margin:4,color:'#000',fontSize:11,fontFamily:FONT,customValues:p.maj,formatter:fmt},
      splitLine:{show:false}});
    yAxis.push({gridIndex:g,type:'value',position:pos,min:p.min,max:p.max,
      axisLine:{show:false,onZero:false},
      axisTick:{show:true,inside:true,length:2.5,lineStyle:lineBlack,customValues:p.mn},
      axisLabel:{show:false},splitLine:{show:false}});
  });
  const cx=COL_LEFT[p.c]+COL_W[p.c]/2;
  graphic.push({type:'text',x:cx,y:TITLE_Y[p.r],silent:true,style:{text:p.t,font:'12px '+FONT,fill:'#000',align:'center',verticalAlign:'middle',textAlign:'center',textVerticalAlign:'middle'}});
  if(p.lines){
    p.lines.forEach((d,i)=>series.push({type:'line',name:MODELS[i],xAxisIndex:2*g,yAxisIndex:4*g,data:d,
      symbol:'none',showSymbol:false,clip:true,silent:true,z:2+i*0.01,
      lineStyle:{color:COLORS[i],width:1.4},itemStyle:{color:COLORS[i]}}));
  } else {
    p.dots.forEach((d,i)=>{
      const sq=(i===1||i===3);
      series.push({type:'scatter',name:MODELS[i],xAxisIndex:2*g,yAxisIndex:4*g,data:d,clip:true,silent:true,
        symbol:sq?'rect':'circle',symbolSize:i===1?5:(i===3?4:(i===7?2.6:2.3)),z:2+i*0.01,
        itemStyle:{color:COLORS[i],opacity:1}});
    });
  }
});
[0,1].forEach(c=>graphic.push({type:'text',x:COL_LEFT[c]+COL_W[c]/2,y:729.5,silent:true,
  style:{text:'Local true solar time (hr)',font:'12.5px '+FONT,fill:'#000',align:'center',verticalAlign:'middle',textAlign:'center',textVerticalAlign:'middle'}}));
const LEG_POS=[[42.7,208.3],[42.7,220.7],[42.7,233],[160,208.3],[160,220.7],[160,233],[160,245.6],[160,258]];
MODELS.forEach((m,i)=>graphic.push({type:'text',x:LEG_POS[i][0],y:LEG_POS[i][1],silent:true,z:100,
  style:{text:m,font:'10.5px '+FONT,fill:COLORS[i],align:'left',verticalAlign:'middle',textAlign:'left',textVerticalAlign:'middle'}}));

const chart=echarts.init(document.getElementById('c'),null,{renderer:'canvas',width:711,height:736});
chart.setOption({animation:false,backgroundColor:'#fff',grid,xAxis,yAxis,series,graphic});
</script>
</body></html>
